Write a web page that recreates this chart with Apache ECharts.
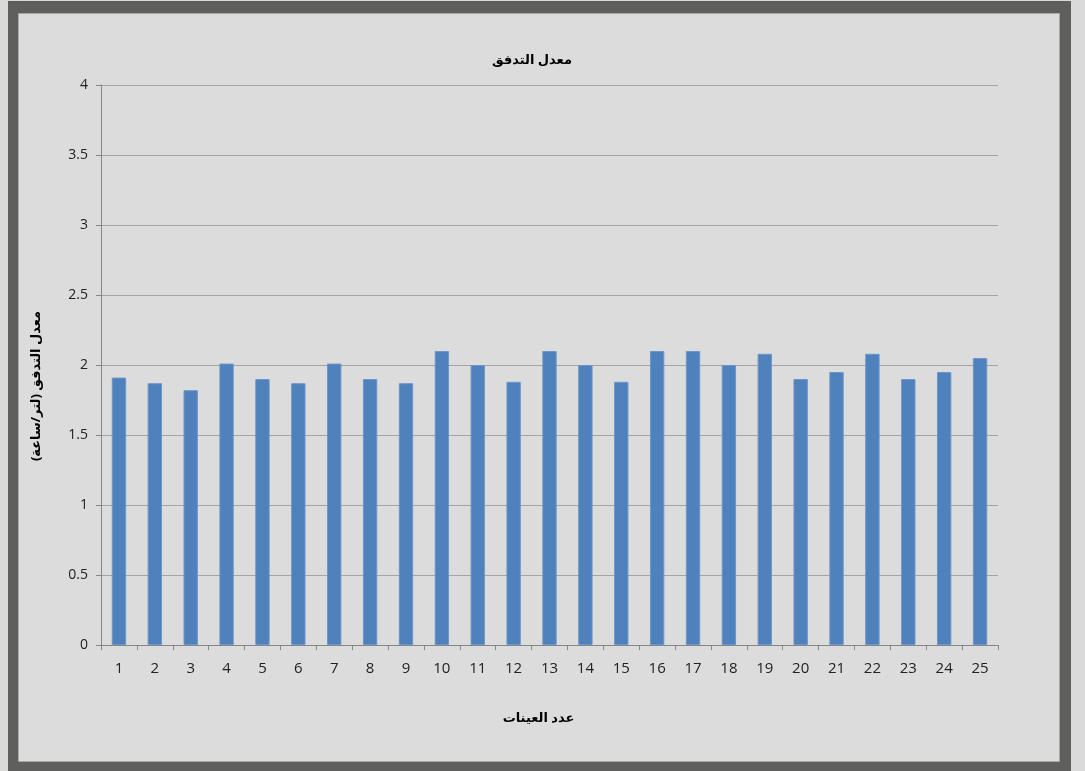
<!DOCTYPE html>
<html>
<head>
<meta charset="utf-8">
<script src="https://cdn.jsdelivr.net/npm/echarts@6/dist/echarts.min.js"></script>
<style>
  html, body { margin: 0; padding: 0; background: #dadada; }
  #chart { width: 1085px; height: 771px; }
</style>
</head>
<body>
<div id="chart"></div>
<script>
// Sample numbers along the x axis
const samples = ['1','2','3','4','5','6','7','8','9','10','11','12','13','14','15','16','17','18','19','20','21','22','23','24','25'];
// Flow rate per sample (litre/hour)
const flowRates = [1.91, 1.87, 1.82, 2.01, 1.90, 1.87, 2.01, 1.90, 1.87, 2.10,
                   2.00, 1.88, 2.10, 2.00, 1.88, 2.10, 2.10, 2.00, 2.08, 1.90,
                   1.95, 2.08, 1.90, 1.95, 2.05];

const titleText = 'معدل التدفق';
const xName = 'عدد العينات';
const yName = 'معدل التدفق (لتر/ساعة)';

const font = '"Open Sans", "DejaVu Sans", sans-serif';
const chart = echarts.init(document.getElementById('chart'));

chart.setOption({
  backgroundColor: '#dadada',
  animation: false,
  textStyle: { fontFamily: font },
  graphic: [
    { type: 'rect', z: -10, silent: true,
      shape: { x: 8, y: 1, width: 1063, height: 780 },
      style: { fill: '#5f5f5d' } },
    { type: 'rect', z: -9, silent: true,
      shape: { x: 18.5, y: 13.5, width: 1041, height: 748 },
      style: { fill: '#dcdcdc', stroke: '#a8a8a8', lineWidth: 1 } }
  ],
  title: {
    text: titleText,
    left: 527, top: 49, textAlign: 'center',
    textStyle: { fontFamily: font, fontSize: 13, fontWeight: 'bold', color: '#000' }
  },
  grid: { left: 101, right: 87, top: 85, bottom: 126 },
  xAxis: {
    type: 'category',
    data: samples,
    name: xName,
    nameLocation: 'middle',
    nameGap: 67,
    nameTextStyle: { fontFamily: font, fontSize: 13, fontWeight: 'bold', color: '#000', padding: [0, 22, 0, 0] },
    axisLine: { lineStyle: { color: '#868686' } },
    axisTick: { show: true, alignWithLabel: false, length: 5, lineStyle: { color: '#868686' } },
    axisLabel: { fontSize: 15, color: '#222', margin: 16 }
  },
  yAxis: {
    type: 'value',
    min: 0, max: 4, interval: 0.5,
    name: yName,
    nameLocation: 'middle',
    nameRotate: 90,
    nameGap: 58,
    nameTextStyle: { fontFamily: font, fontSize: 13, fontWeight: 'bold', color: '#000', padding: [0, 42, 0, 0] },
    axisLine: { show: true, lineStyle: { color: '#868686' } },
    axisTick: { show: true, length: 5, lineStyle: { color: '#868686' } },
    axisLabel: { fontSize: 14, color: '#222', margin: 13 },
    splitLine: { lineStyle: { color: '#a4a4a4', width: 1 } }
  },
  series: [{
    type: 'bar',
    data: flowRates,
    barWidth: '40%',
    itemStyle: { color: '#4f81bd', borderColor: '#6c96c9', borderWidth: 1 }
  }]
});
</script>
</body>
</html>
